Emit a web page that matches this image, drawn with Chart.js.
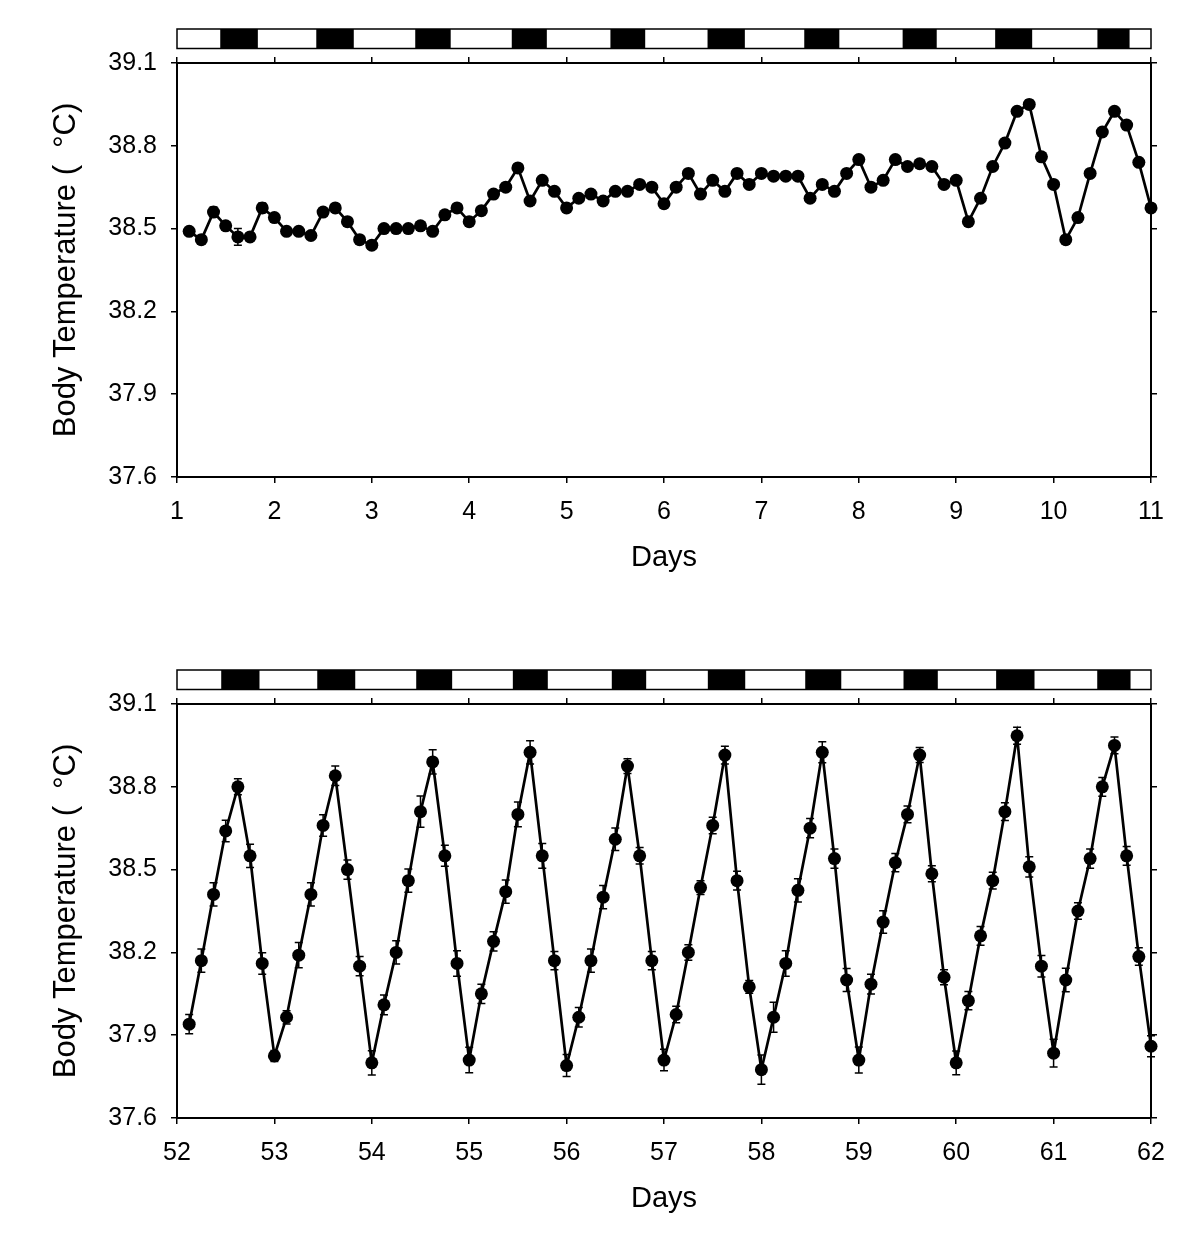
<!DOCTYPE html>
<html><head><meta charset="utf-8">
<script src="https://cdn.jsdelivr.net/npm/chart.js@4.4.0/dist/chart.umd.min.js"></script>
<style>
html,body{margin:0;padding:0;background:#fff;overflow:hidden;width:1200px;height:1238px;}
canvas{position:absolute;left:0;}
#c1{top:0px;}
#c2{top:641px;}
</style></head><body>
<canvas id="c1" width="1200" height="597"></canvas>
<canvas id="c2" width="1200" height="597"></canvas>
<script>
// ---------- Panel 1 (days 1-11) ----------
const topDays = [
 1.125,1.25,1.375,1.5,1.625,1.75,1.875,2,
 2.125,2.25,2.375,2.5,2.625,2.75,2.875,3,
 3.125,3.25,3.375,3.5,3.625,3.75,3.875,4,
 4.125,4.25,4.375,4.5,4.625,4.75,4.875,5,
 5.125,5.25,5.375,5.5,5.625,5.75,5.875,6,
 6.125,6.25,6.375,6.5,6.625,6.75,6.875,7,
 7.125,7.25,7.375,7.5,7.625,7.75,7.875,8,
 8.125,8.25,8.375,8.5,8.625,8.75,8.875,9,
 9.125,9.25,9.375,9.5,9.625,9.75,9.875,10,
 10.125,10.25,10.375,10.5,10.625,10.75,10.875,11
];
const topTemps = [
 38.49,38.46,38.56,38.51,38.47,38.47,38.575,38.54,
 38.49,38.49,38.475,38.56,38.575,38.525,38.46,38.44,
 38.50,38.50,38.50,38.51,38.49,38.55,38.575,38.525,
 38.565,38.625,38.65,38.72,38.60,38.675,38.635,38.575,
 38.61,38.625,38.60,38.635,38.635,38.66,38.65,38.59,
 38.65,38.70,38.625,38.675,38.635,38.70,38.66,38.70,
 38.69,38.69,38.69,38.61,38.66,38.635,38.70,38.75,
 38.65,38.675,38.75,38.725,38.735,38.725,38.66,38.675,
 38.525,38.61,38.725,38.81,38.925,38.95,38.76,38.66,
 38.46,38.54,38.70,38.85,38.925,38.875,38.74,38.575
];
const topErr = [
 0.010,0.010,0.018,0.010,0.030,0.010,0.018,0.010,
 0.010,0.010,0.010,0.010,0.010,0.010,0.010,0.010,
 0.010,0.010,0.010,0.010,0.010,0.010,0.010,0.010,
 0.010,0.010,0.010,0.010,0.010,0.010,0.010,0.010,
 0.010,0.010,0.010,0.010,0.010,0.010,0.010,0.010,
 0.010,0.010,0.010,0.010,0.010,0.010,0.010,0.010,
 0.010,0.010,0.010,0.010,0.010,0.010,0.010,0.010,
 0.010,0.010,0.010,0.010,0.012,0.010,0.010,0.010,
 0.010,0.010,0.010,0.010,0.010,0.016,0.014,0.010,
 0.010,0.010,0.010,0.010,0.010,0.010,0.010,0.010
];
const topXTicks = [1,2,3,4,5,6,7,8,9,10,11];
const topDarkStart = [1.444,2.43,3.446,4.437,5.45,6.447,7.44,8.45,9.40,10.45];
const topDarkEnd   = [1.83,2.815,3.81,4.797,5.807,6.83,7.80,8.80,9.78,10.78];

// ---------- Panel 2 (days 52-62) ----------
const bottomDays = [
 52.125,52.25,52.375,52.5,52.625,52.75,52.875,53,
 53.125,53.25,53.375,53.5,53.625,53.75,53.875,54,
 54.125,54.25,54.375,54.5,54.625,54.75,54.875,55,
 55.125,55.25,55.375,55.5,55.625,55.75,55.875,56,
 56.125,56.25,56.375,56.5,56.625,56.75,56.875,57,
 57.125,57.25,57.375,57.5,57.625,57.75,57.875,58,
 58.125,58.25,58.375,58.5,58.625,58.75,58.875,59,
 59.125,59.25,59.375,59.5,59.625,59.75,59.875,60,
 60.125,60.25,60.375,60.5,60.625,60.75,60.875,61,
 61.125,61.25,61.375,61.5,61.625,61.75,61.875,62
];
const bottomTemps = [
 37.94,38.17,38.41,38.64,38.80,38.55,38.16,37.825,
 37.965,38.19,38.41,38.66,38.84,38.50,38.15,37.80,
 38.01,38.20,38.46,38.71,38.89,38.55,38.16,37.81,
 38.05,38.24,38.42,38.70,38.925,38.55,38.17,37.79,
 37.965,38.17,38.40,38.61,38.875,38.55,38.17,37.81,
 37.975,38.20,38.435,38.66,38.915,38.46,38.075,37.775,
 37.965,38.16,38.425,38.65,38.925,38.54,38.10,37.81,
 38.085,38.31,38.525,38.70,38.915,38.485,38.11,37.80,
 38.025,38.26,38.46,38.71,38.985,38.51,38.15,37.835,
 38.10,38.35,38.54,38.80,38.95,38.55,38.185,37.86
];
const bottomErr = [
 0.035,0.042,0.042,0.039,0.029,0.042,0.039,0.020,
 0.024,0.046,0.042,0.039,0.035,0.035,0.035,0.044,
 0.036,0.042,0.042,0.057,0.044,0.038,0.046,0.046,
 0.035,0.035,0.042,0.045,0.042,0.045,0.033,0.040,
 0.035,0.042,0.042,0.041,0.027,0.030,0.033,0.039,
 0.030,0.028,0.025,0.030,0.032,0.034,0.023,0.053,
 0.054,0.046,0.042,0.035,0.038,0.035,0.042,0.047,
 0.036,0.041,0.033,0.030,0.027,0.029,0.027,0.043,
 0.033,0.034,0.030,0.032,0.031,0.037,0.039,0.050,
 0.043,0.030,0.035,0.034,0.030,0.034,0.032,0.038
];
const bottomXTicks = [52,53,54,55,56,57,58,59,60,61,62];
const bottomDarkStart = [52.454,53.44,54.456,55.448,56.464,57.45,58.45,59.459,60.41,61.448];
const bottomDarkEnd   = [52.847,53.83,54.825,55.807,56.817,57.834,58.82,59.811,60.804,61.79];

const yTicks = [37.6,37.9,38.2,38.5,38.8,39.1];
const yTitle = 'Body Temperature (  \u00B0C)';
const xTitle = 'Days';

const FONT = "'Liberation Sans', Arial, sans-serif";

function errorBarPlugin(errs) {
  return {
    id: 'errorBars',
    beforeDatasetsDraw(chart) {
      const ctx = chart.ctx;
      const meta = chart.getDatasetMeta(0);
      const ys = chart.scales.y;
      const data = chart.data.datasets[0].data;
      ctx.save();
      ctx.strokeStyle = '#000';
      ctx.lineWidth = 1.5;
      meta.data.forEach((pt, i) => {
        const x = pt.x;
        const yTop = ys.getPixelForValue(data[i].y + errs[i]);
        const yBot = ys.getPixelForValue(data[i].y - errs[i]);
        ctx.beginPath();
        ctx.moveTo(x, yTop); ctx.lineTo(x, yBot);
        ctx.moveTo(x - 4, yTop); ctx.lineTo(x + 4, yTop);
        ctx.moveTo(x - 4, yBot); ctx.lineTo(x + 4, yBot);
        ctx.stroke();
      });
      ctx.restore();
    }
  };
}

function lightDarkPlugin(starts, ends) {
  return {
    id: 'lightDark',
    afterDraw(chart) {
      const ctx = chart.ctx, xs = chart.scales.x;
      const top = 29, h = 19.5;
      const L = xs.getPixelForValue(xs.min), R = xs.getPixelForValue(xs.max);
      ctx.save();
      ctx.fillStyle = '#000';
      for (let i = 0; i < starts.length; i++) {
        const a = xs.getPixelForValue(starts[i]), b = xs.getPixelForValue(ends[i]);
        ctx.fillRect(a, top, b - a, h);
      }
      ctx.strokeStyle = '#000';
      ctx.lineWidth = 1.5;
      ctx.strokeRect(L, top, R - L, h);
      ctx.restore();
    }
  };
}

function makeChart(id, days, temps, errs, xTicks, darkStart, darkEnd) {
  const pts = days.map((d, i) => ({x: d, y: temps[i]}));
  const xmin = xTicks[0], xmax = xTicks[xTicks.length - 1];
  const gridCfg = {drawOnChartArea: false, drawTicks: true, tickLength: 6, color: '#000', lineWidth: 1.5};
  const borderCfg = {display: true, color: '#000', width: 2};
  const setX = s => { s.ticks = xTicks.map(v => ({value: v})); };
  const setY = s => { s.ticks = yTicks.map(v => ({value: v})); };
  return new Chart(document.getElementById(id), {
    type: 'line',
    data: {
      datasets: [{
        data: pts,
        borderColor: '#000',
        borderWidth: 2.7,
        pointRadius: 6.5,
        pointHoverRadius: 6.5,
        pointBackgroundColor: '#000',
        pointBorderColor: '#000',
        pointBorderWidth: 0,
        tension: 0,
        fill: false,
        clip: false
      }]
    },
    options: {
      responsive: false,
      animation: false,
      devicePixelRatio: 1,
      layout: {padding: {top: 55, left: 0, right: 0, bottom: 0}},
      plugins: {legend: {display: false}, tooltip: {enabled: false}},
      scales: {
        x: {
          type: 'linear', position: 'bottom', min: xmin, max: xmax,
          afterBuildTicks: setX,
          afterFit: s => { s.height = 120; },
          border: borderCfg, grid: gridCfg,
          ticks: {color: '#000', font: {family: FONT, size: 25}, padding: 14, maxRotation: 0, autoSkip: false,
                  callback: v => String(v)},
          title: {display: true, text: xTitle, color: '#000', font: {family: FONT, size: 29}, padding: {top: 0, bottom: 22}}
        },
        x2: {
          type: 'linear', position: 'top', min: xmin, max: xmax,
          afterBuildTicks: setX,
          afterFit: s => { s.height = 8; },
          border: borderCfg, grid: gridCfg,
          ticks: {display: false}
        },
        y: {
          type: 'linear', position: 'left', min: yTicks[0], max: yTicks[yTicks.length - 1],
          afterBuildTicks: setY,
          afterFit: s => { s.width = 177; },
          border: borderCfg, grid: gridCfg,
          ticks: {color: '#000', font: {family: FONT, size: 25}, padding: 14, callback: v => Number(v).toFixed(1)},
          title: {display: true, text: yTitle, color: '#000', font: {family: FONT, size: 31}, padding: {top: 48, bottom: 0}}
        },
        y2: {
          type: 'linear', position: 'right', min: yTicks[0], max: yTicks[yTicks.length - 1],
          afterBuildTicks: setY,
          afterFit: s => { s.width = 49; },
          border: borderCfg, grid: gridCfg,
          ticks: {display: false}
        }
      }
    },
    plugins: [errorBarPlugin(errs), lightDarkPlugin(darkStart, darkEnd)]
  });
}

makeChart('c1', topDays, topTemps, topErr, topXTicks, topDarkStart, topDarkEnd);
makeChart('c2', bottomDays, bottomTemps, bottomErr, bottomXTicks, bottomDarkStart, bottomDarkEnd);
</script>
</body></html>
